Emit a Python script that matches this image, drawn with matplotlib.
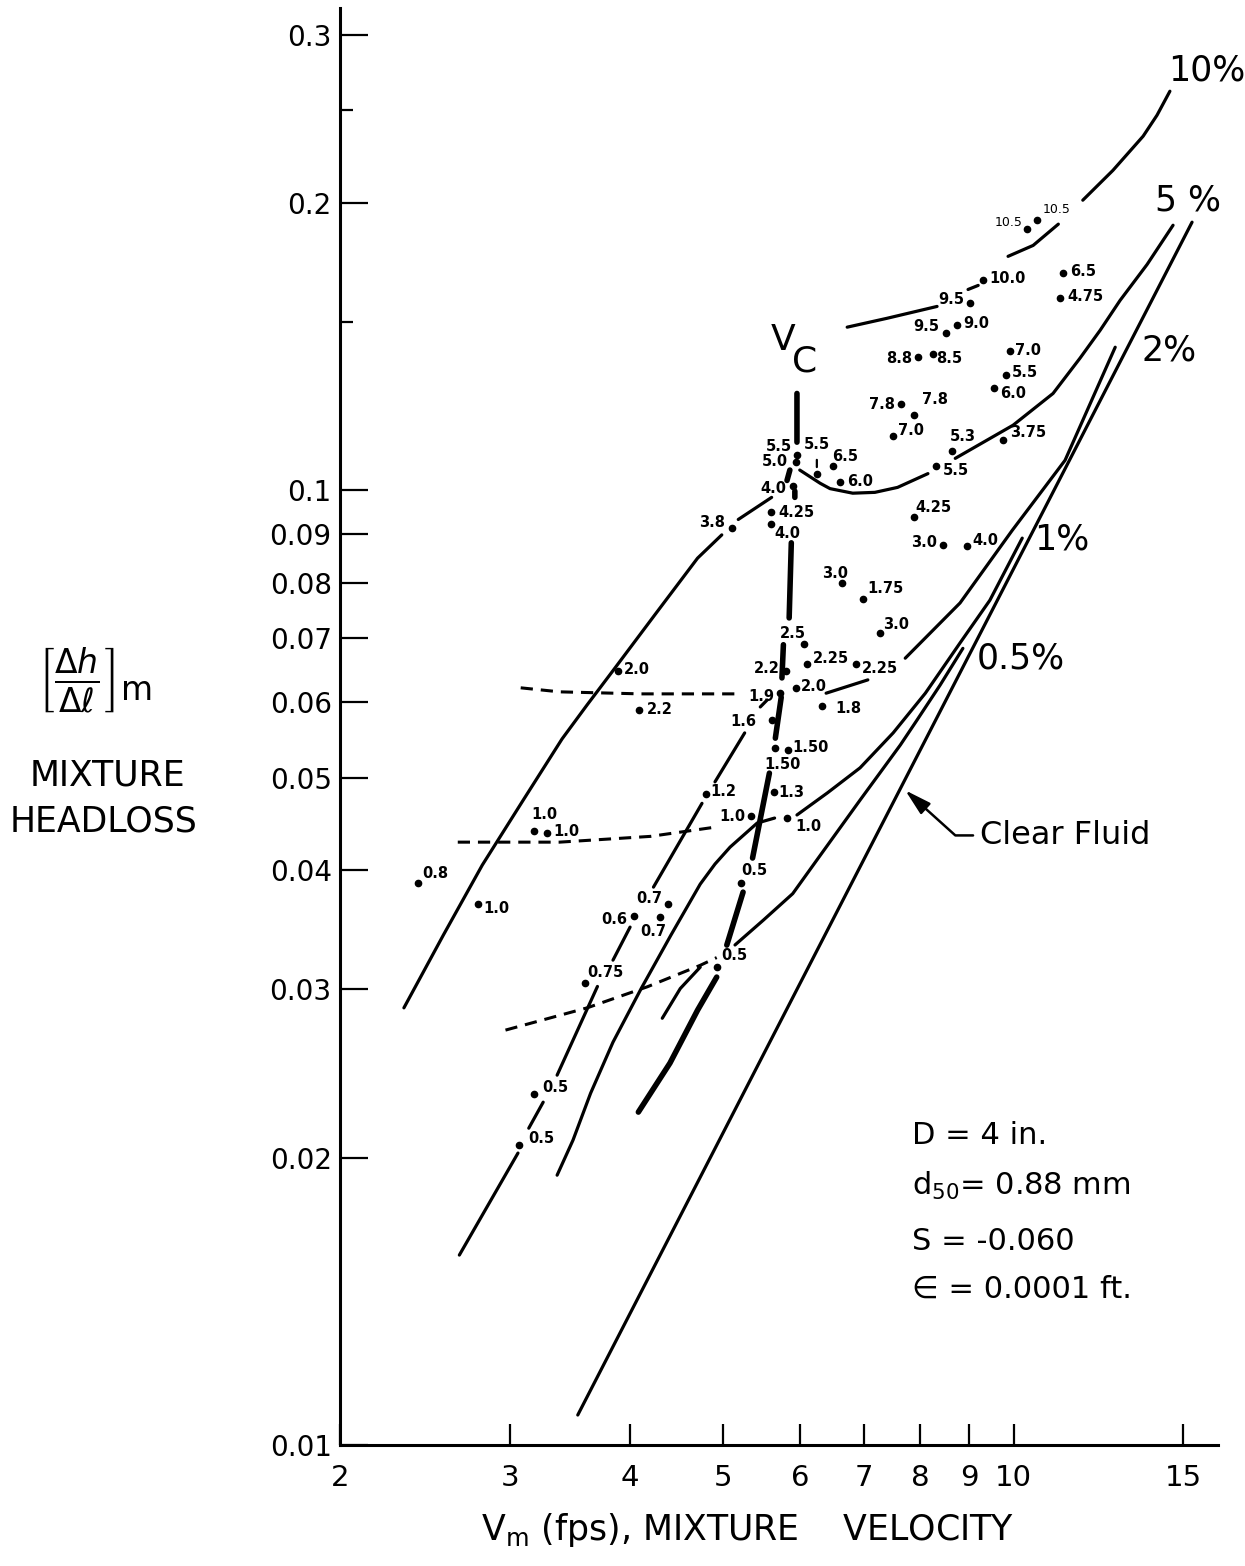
import numpy as np
import matplotlib.pyplot as plt
from matplotlib.ticker import FixedLocator, NullFormatter

plt.rcParams['font.family'] = ['DejaVu Sans']
plt.rcParams['mathtext.fontset'] = 'dejavusans'

nan = np.nan

# measured points: mixture velocity (fps), headloss, label (concentration %)
pt_v = [10.33, 10.58, 9.30, 9.01, 8.74, 8.51, 7.96, 8.25, 9.91, 9.82, 9.54, 11.26, 11.18,
        7.65, 7.89, 7.50, 8.63, 9.75, 6.50, 6.25, 5.96, 5.95, 6.61, 5.90, 5.60, 5.60, 5.10,
        8.31, 7.89, 8.45, 8.95, 6.64, 6.98, 7.27, 6.06, 6.10, 6.86, 5.80, 5.95, 5.72, 6.33,
        3.89, 4.09, 5.62, 5.83, 5.66, 5.64, 4.80, 5.34, 5.82, 5.22, 3.18, 3.28, 2.41, 2.78,
        4.38, 4.04, 4.30, 3.59, 3.18, 3.07, 4.92]
pt_h = [0.188, 0.192, 0.166, 0.157, 0.149, 0.146, 0.138, 0.139, 0.140, 0.132, 0.128, 0.169, 0.159,
        0.123, 0.120, 0.114, 0.110, 0.113, 0.106, 0.104, 0.109, 0.107, 0.102, 0.101, 0.0950, 0.0921, 0.0914,
        0.106, 0.0937, 0.0876, 0.0874, 0.0799, 0.0769, 0.0709, 0.0690, 0.0658, 0.0658, 0.0646, 0.0621, 0.0613, 0.0594,
        0.0646, 0.0589, 0.0575, 0.0534, 0.0537, 0.0483, 0.0481, 0.0456, 0.0454, 0.0388, 0.0440, 0.0438, 0.0388, 0.0369,
        0.0369, 0.0358, 0.0357, 0.0305, 0.0233, 0.0206, 0.0317]
pt_lab = ["10.5", "10.5", "10.0", "9.5", "9.0", "9.5", "8.8", "8.5", "7.0", "5.5", "6.0", "6.5", "4.75",
          "7.8", "7.8", "7.0", "5.3", "3.75", "6.5", "5.5", "5.5", "5.0", "6.0", "4.0", "4.25", "4.0", "3.8",
          "5.5", "4.25", "3.0", "4.0", "3.0", "1.75", "3.0", "2.5", "2.25", "2.25", "2.2", "2.0", "1.9", "1.8",
          "2.0", "2.2", "1.6", "1.50", "1.50", "1.3", "1.2", "1.0", "1.0", "0.5", "1.0", "1.0", "0.8", "1.0",
          "0.7", "0.6", "0.7", "0.75", "0.5", "0.5", "0.5"]

# curves of constant concentration (nan = break in the drawn line)
c10_v = [6.72, 7.39, 8.33, nan, 8.97, 9.19, nan, 9.87, 10.48, 11.13, nan, 11.80, 12.68, 13.63, 14.09, 14.53]
c10_h = [0.1482, 0.1514, 0.1558, nan, 0.1623, 0.1639, nan, 0.1758, 0.1805, 0.1900, nan, 0.2013, 0.2163, 0.2349,
         0.2471, 0.2618]

c5r_v = [6.00, 6.30, 6.45, 6.81, 7.18, 7.58, 8.15, nan, 8.70, 9.99, 10.99, 11.72, 12.30, 12.90, 13.76, 14.64]
c5r_h = [0.1050, 0.1017, 0.1004, 0.0993, 0.0995, 0.1007, 0.1041, nan, 0.1080, 0.1170, 0.1263, 0.1375, 0.1471,
         0.1581, 0.1724, 0.1895]
c5l_v = [2.33, 2.56, 2.81, 3.10, 3.40, 3.61, 3.83, 4.25, 4.70, 4.98, nan, 5.18, 5.61]
c5l_h = [0.0287, 0.0342, 0.0405, 0.0474, 0.0549, 0.0596, 0.0645, 0.0742, 0.0849, 0.0898, nan, 0.0932, 0.0983]

c2r_v = [6.39, 7.06, nan, 7.72, 8.80, 9.97, 11.31, 12.75]
c2r_h = [0.0613, 0.0633, nan, 0.0667, 0.0762, 0.0908, 0.1075, 0.1412]
c2l_v = [2.66, 3.06, nan, 3.14, 3.25, nan, 3.36, 3.70, nan, 3.84, 4.00, nan, 4.23, 4.75, nan, 4.90, 5.26, nan, 5.46, 5.55]
c2l_h = [0.01581, 0.02022, nan, 0.02147, 0.02286, nan, 0.02440, 0.03022, nan, 0.0322, 0.03487, nan,
         0.0384, 0.0470, nan, 0.0495, 0.0557, nan, 0.0593, 0.0603]

c1r_v = [5.96, 6.41, 6.93, 7.50, 8.10, 8.80, 9.45, 10.21]
c1r_h = [0.0457, 0.0482, 0.0512, 0.0557, 0.0613, 0.0692, 0.0767, 0.0891]
c1l_v = [3.36, 3.49, 3.64, 3.84, 4.11, 4.41, 4.73, 4.90, 5.08, 5.42, 5.65]
c1l_h = [0.01917, 0.02086, 0.02336, 0.02642, 0.03010, 0.03420, 0.03868, 0.04060, 0.04229, 0.04482, 0.04536]

c05r_v = [5.14, 5.50, 5.90, 6.25, 6.93, 7.63, 7.94, 8.39, 8.86]
c05r_h = [0.0334, 0.03546, 0.0378, 0.04099, 0.04737, 0.0541, 0.05745, 0.0625, 0.0683]
c05l_v = [4.32, 4.51, 4.73]
c05l_h = [0.02799, 0.03007, 0.03166]

clear_v = [3.53, 15.32]
clear_h = [0.01075, 0.1909]

# critical velocity locus
vc_v = [4.08, 4.40, 4.70, 4.92, nan, 5.04, 5.24, nan, 5.36, 5.58, nan, 5.66, 5.74, nan, 5.75, 5.77,
        nan, 5.85, 5.88, nan, 5.93, 5.93, nan, 5.86, 5.82, nan, 5.96, 5.96]
vc_h = [0.02232, 0.02512, 0.02854, 0.03091, nan, 0.03339, 0.03794, nan, 0.04119, 0.05055, nan, 0.0550, 0.0607,
        nan, 0.0636, 0.0689, nan, 0.0735, 0.0881, nan, 0.0983, 0.0998, nan, 0.1050, 0.1024, nan, 0.1123, 0.1263]

# dashed connecting lines
d1_v = [3.08, 3.38, 4.10, 5.20]
d1_h = [0.0621, 0.0615, 0.0612, 0.0612]
d2_v = [2.65, 3.38, 4.20, 4.92]
d2_h = [0.0428, 0.0428, 0.0434, 0.0444]
d3_v = [2.97, 3.61, 4.17, 4.73, 4.92]
d3_h = [0.0272, 0.0287, 0.0302, 0.0318, 0.0324]

y_ticks = [0.01, 0.02, 0.03, 0.04, 0.05, 0.06, 0.07, 0.08, 0.09, 0.1, 0.2, 0.3]
y_ticklabels = ["0.01", "0.02", "0.03", "0.04", "0.05", "0.06", "0.07", "0.08", "0.09", "0.1", "0.2", "0.3"]
y_minor = [0.15, 0.25]
x_ticks = [2, 3, 4, 5, 6, 7, 8, 9, 10, 15]
x_ticklabels = ["2", "3", "4", "5", "6", "7", "8", "9", "10", "15"]

# label placement around each point: (dx px, dy px, ha)
pt_off = [(-5, 6, 'right'), (6, 10, 'left'), (6, 2, 'left'), (-6, 4, 'right'), (6, 1, 'left'),
          (-7, 7, 'right'), (-6, -2, 'right'), (3, -5, 'left'), (5, 0, 'left'), (6, 3, 'left'),
          (6, -6, 'left'), (7, 1, 'left'), (7, 1, 'left'), (-6, 0, 'right'), (8, 15, 'left'),
          (5, 5, 'left'), (-2, 14, 'left'), (7, 7, 'left'), (-1, 10, 'left'), (0, 30, 'center'),
          (-5, 8, 'right'), (-8, 1, 'right'), (7, 1, 'left'), (-6, -2, 'right'), (7, -1, 'left'),
          (3, -9, 'left'), (-7, 5, 'right'), (7, -4, 'left'), (1, 10, 'left'), (-6, 3, 'right'),
          (5, 6, 'left'), (-7, 10, 'center'), (4, 11, 'left'), (3, 8, 'left'), (-11, 11, 'center'),
          (6, 5, 'left'), (6, -5, 'left'), (-6, 3, 'right'), (5, 1, 'left'), (-5, -3, 'right'),
          (13, -2, 'left'), (5, 2, 'left'), (7, 0, 'left'), (-16, -2, 'right'), (5, 3, 'left'),
          (7, -16, 'center'), (4, 0, 'left'), (4, 2, 'left'), (-6, -1, 'right'), (8, -9, 'left'),
          (0, 12, 'left'), (10, 16, 'center'), (6, 1, 'left'), (4, 9, 'left'), (6, -5, 'left'),
          (-6, 5, 'right'), (-7, -3, 'right'), (-7, -14, 'center'), (2, 10, 'left'), (8, 7, 'left'),
          (9, 7, 'left'), (5, 11, 'left')]

fig = plt.figure(figsize=(12.45, 15.66), dpi=100)
ax = fig.add_axes([340 / 1245, 1 - 1445 / 1566, 878 / 1245, 1437 / 1566])
ax.set_xscale('log')
ax.set_yscale('log')
ax.set_xlim(2, 16.3)
ax.set_ylim(0.01, 0.32)

for s in ['top', 'right']:
    ax.spines[s].set_visible(False)
for s in ['left', 'bottom']:
    ax.spines[s].set_linewidth(2.2)

ax.yaxis.set_major_locator(FixedLocator(y_ticks))
ax.set_yticklabels(y_ticklabels)
ax.yaxis.set_minor_locator(FixedLocator(y_minor))
ax.yaxis.set_minor_formatter(NullFormatter())
ax.xaxis.set_major_locator(FixedLocator(x_ticks))
ax.set_xticklabels(x_ticklabels)
ax.xaxis.set_minor_locator(FixedLocator([]))
ax.tick_params(axis='y', which='major', direction='in', length=20, width=1.6, labelsize=20, pad=6)
ax.tick_params(axis='y', which='minor', direction='in', length=9, width=1.6)
ax.tick_params(axis='x', which='major', direction='in', length=15, width=1.6, labelsize=21, pad=14)

lw = 2.3
for v, h in [(c10_v, c10_h), (c5r_v, c5r_h), (c5l_v, c5l_h), (c2r_v, c2r_h), (c2l_v, c2l_h),
             (c1r_v, c1r_h), (c1l_v, c1l_h), (c05r_v, c05r_h), (c05l_v, c05l_h), (clear_v, clear_h)]:
    ax.plot(v, h, color='k', lw=lw, solid_capstyle='round', solid_joinstyle='round')
ax.plot(vc_v, vc_h, color='k', lw=4.0, solid_capstyle='round')
for v, h in [(d1_v, d1_h), (d2_v, d2_h), (d3_v, d3_h)]:
    ax.plot(v, h, color='k', lw=2.2, ls=(0, (4, 2.6)))

ax.plot(pt_v, pt_h, 'o', ms=4.5, mfc='k', mec='k', ls='none')

for i, (v, h, lab) in enumerate(zip(pt_v, pt_h, pt_lab)):
    dx, dy, ha = pt_off[i]
    small = i < 2
    kw = dict(xy=(v, h), xytext=(dx, dy), textcoords='offset pixels', ha=ha, va='center',
              fontsize=9 if small else 10.5, fontweight='normal' if small else 'bold')
    if i == 19:
        kw['arrowprops'] = dict(arrowstyle='-', color='k', lw=1.6, shrinkA=4, shrinkB=5)
    ax.annotate(lab, **kw)

# concentration labels
ax.text(15.85, 0.2753, '10%', fontsize=25, ha='center', va='center')
ax.text(15.18, 0.2013, '5 %', fontsize=25, ha='center', va='center')
ax.text(14.50, 0.1402, '2%', fontsize=25, ha='center', va='center')
ax.text(11.23, 0.0887, '1%', fontsize=25, ha='center', va='center')
ax.text(10.18, 0.0666, '0.5%', fontsize=25, ha='center', va='center')
ax.text(5.76, 0.1436, 'V', fontsize=26, ha='center', va='center')
ax.text(6.07, 0.1365, 'C', fontsize=26, ha='center', va='center')

ax.annotate('Clear Fluid', xy=(7.72, 0.0485), xytext=(9.23, 0.0435), fontsize=23,
            ha='left', va='center',
            arrowprops=dict(arrowstyle='-|>,head_length=0.8,head_width=0.22',
                            connectionstyle='angle,angleA=0,angleB=-42,rad=0',
                            color='k', lw=1.8, relpos=(0, 0.5), shrinkA=3, shrinkB=0,
                            mutation_scale=20))

# pipe / sediment parameters
fig.text(0.7325, 0.2746, 'D = 4 in.', fontsize=22, ha='left', va='center')
fig.text(0.7325, 0.2427, r'd$_{50}$= 0.88 mm', fontsize=22, ha='left', va='center')
fig.text(0.7325, 0.2075, 'S = -0.060', fontsize=22, ha='left', va='center')
fig.text(0.7325, 0.1769, '\u2208 = 0.0001 ft.', fontsize=22, ha='left', va='center')

# axis titles
fig.text(0.0763, 0.5658, r'$\left[\frac{\Delta h}{\Delta \ell}\right]_{\rm m}$', fontsize=34,
         ha='center', va='center')
fig.text(0.0859, 0.5051, 'MIXTURE', fontsize=25, ha='center', va='center')
fig.text(0.0835, 0.4757, 'HEADLOSS', fontsize=25, ha='center', va='center')
fig.text(0.6008, 0.0230, r'V$_{\rm m}$ (fps), MIXTURE    VELOCITY', fontsize=25, ha='center', va='center')

fig.savefig('out.png', dpi=100, facecolor='white')
